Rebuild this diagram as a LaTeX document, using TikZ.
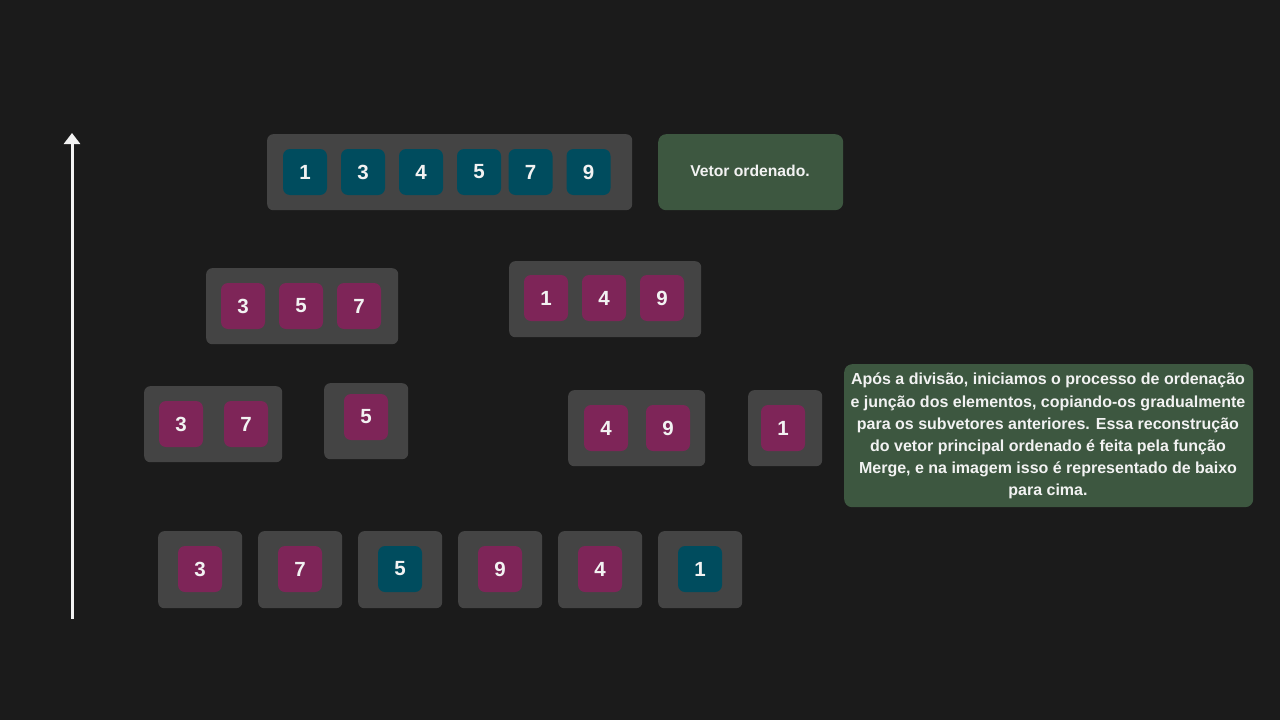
\documentclass[tikz,border=0pt]{standalone}
\usepackage{fontspec}
\setmainfont{Liberation Sans}
\usetikzlibrary{arrows.meta}
\definecolor{bg}{HTML}{1B1B1B}
\definecolor{panel}{HTML}{444444}
\definecolor{teal}{HTML}{004C5E}
\definecolor{mag}{HTML}{7E2558}
\definecolor{note}{HTML}{3D5740}
\definecolor{txt}{HTML}{F2F2F2}
\begin{document}
\begin{tikzpicture}[x=1pt,y=-1pt,
  panelbox/.style={fill=panel,rounded corners=6pt,inner sep=0pt,anchor=north west},
  cell/.style={rounded corners=7pt,inner sep=0pt,minimum width=44pt,minimum height=46pt,text=txt,font=\bfseries\fontsize{20.5}{24}\selectfont},
  tcell/.style={cell,fill=teal},
  mcell/.style={cell,fill=mag},
  notebox/.style={fill=note,rounded corners=8pt,inner sep=0pt,anchor=north west}]
\fill[bg] (0,0) rectangle (1280,720);
\useasboundingbox (0,0) rectangle (1280,720);
% arrow
\coordinate (a0) at (72,619);
\coordinate (a1) at (72,133);
\draw[txt,line width=3pt,-{Triangle[width=16pt,length=11pt]}] (a0) -- (a1);
% top row
\node[panelbox,minimum width=365pt,minimum height=76pt] (p0) at (267,134) {};
\node[tcell] (t1) at (305,172) {1};
\node[tcell] (t3) at (363,172) {3};
\node[tcell] (t4) at (421,172) {4};
\node[tcell] (t5) at (479,172) {5};
\node[tcell] (t7) at (530.5,172) {7};
\node[tcell] (t9) at (588.5,172) {9};
\node[notebox,minimum width=185pt,minimum height=76pt] (n0) at (658,134) {};
\node[text=txt,font=\bfseries\fontsize{15.7}{18}\selectfont] (n0t) at (750,171) {Vetor ordenado.};
% row 2
\node[panelbox,minimum width=192pt,minimum height=76pt] (p1) at (206,268) {};
\node[mcell] (r2a) at (243,306) {3};
\node[mcell] (r2b) at (301,306) {5};
\node[mcell] (r2c) at (359,306) {7};
\node[panelbox,minimum width=192pt,minimum height=76pt] (p2) at (509,261) {};
\node[mcell] (r2d) at (546,298) {1};
\node[mcell] (r2e) at (604,298) {4};
\node[mcell] (r2f) at (662,298) {9};
% row 3
\node[panelbox,minimum width=138pt,minimum height=76pt] (p3) at (144,386) {};
\node[mcell] (r3a) at (181,424) {3};
\node[mcell] (r3b) at (246,424) {7};
\node[panelbox,minimum width=84pt,minimum height=76pt] (p4) at (324,383) {};
\node[mcell] (r3c) at (366,417) {5};
\node[panelbox,minimum width=137pt,minimum height=76pt] (p5) at (568,390) {};
\node[mcell] (r3d) at (606,428) {4};
\node[mcell] (r3e) at (668,428) {9};
\node[panelbox,minimum width=74pt,minimum height=76pt] (p6) at (748,390) {};
\node[mcell] (r3f) at (783,428) {1};
% note
\node[notebox,minimum width=409pt,minimum height=143pt] (n1) at (844,364) {};
\node[text=txt,font=\bfseries\fontsize{16}{22.1}\selectfont,align=center] (n1t) at (1048,436) {Após a divisão, iniciamos o processo de ordenação\\e junção dos elementos, copiando-os gradualmente\\para os subvetores anteriores. Essa reconstrução\\do vetor principal ordenado é feita pela função\\Merge, e na imagem isso é representado de baixo\\para cima.};
% row 4
\node[panelbox,minimum width=84pt,minimum height=77pt] (q1) at (158,531) {};
\node[mcell] (b1) at (200,569) {3};
\node[panelbox,minimum width=84pt,minimum height=77pt] (q2) at (258,531) {};
\node[mcell] (b2) at (300,569) {7};
\node[panelbox,minimum width=84pt,minimum height=77pt] (q3) at (358,531) {};
\node[tcell] (b3) at (400,569) {5};
\node[panelbox,minimum width=84pt,minimum height=77pt] (q4) at (458,531) {};
\node[mcell] (b4) at (500,569) {9};
\node[panelbox,minimum width=84pt,minimum height=77pt] (q5) at (558,531) {};
\node[mcell] (b5) at (600,569) {4};
\node[panelbox,minimum width=84pt,minimum height=77pt] (q6) at (658,531) {};
\node[tcell] (b6) at (700,569) {1};
\end{tikzpicture}
\end{document}
